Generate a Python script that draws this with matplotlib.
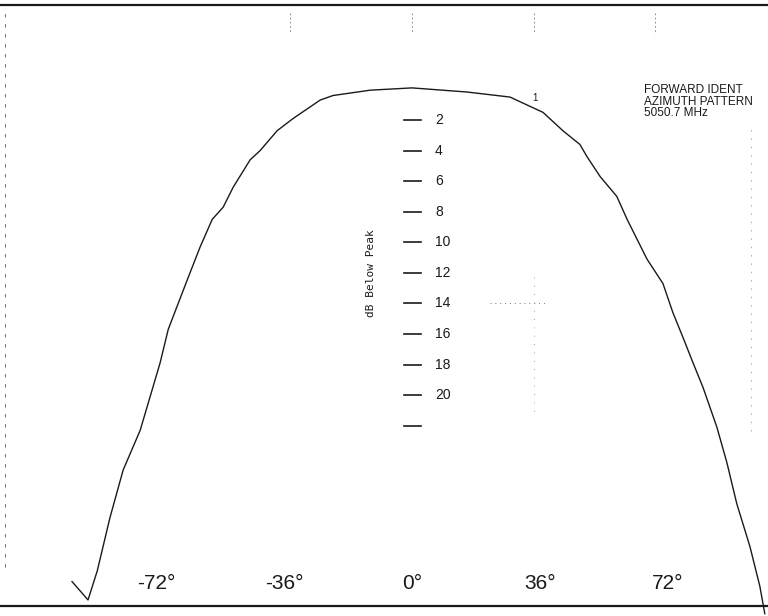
import matplotlib
matplotlib.use("Agg")
import matplotlib.pyplot as plt

# Azimuth pattern (degrees, dB below peak)
azimuth_deg = [-95.8, -91.3, -88.7, -85.1, -81.4, -76.6, -71.0, -68.7, -63.4, -59.7,
               -56.3, -53.2, -50.4, -45.6, -42.8, -38.0, -33.5, -25.9, -22.3, -11.8,
               0.0, 15.5, 27.6, 34.1, 36.9, 42.5, 47.3, 49.3, 53.0, 57.7, 60.6,
               66.2, 70.7, 73.5, 76.3, 79.2, 82.0, 85.9, 88.7, 91.5, 95.2, 98.0, 99.4]
db_below_peak = [32.2, 33.4, 31.5, 28.0, 24.9, 22.3, 17.9, 15.7, 12.5, 10.3,
                 8.5, 7.7, 6.4, 4.6, 4.0, 2.7, 1.9, 0.7, 0.4, 0.05,
                 -0.1, 0.17, 0.5, 1.2, 1.5, 2.7, 3.6, 4.4, 5.7, 7.0, 8.5,
                 11.1, 12.7, 14.6, 16.2, 17.9, 19.5, 22.1, 24.4, 27.1, 29.9, 32.5, 34.3]

x_tick_values = [-72, -36, 0, 36, 72]
x_tick_labels = ["-72°", "-36°", "0°", "36°", "72°"]
db_tick_values = [2, 4, 6, 8, 10, 12, 14, 16, 18, 20, 22]
db_tick_labels = ["2", "4", "6", "8", "10", "12", "14", "16", "18", "20", ""]

fig = plt.figure(figsize=(7.68, 6.16), dpi=100)
ax = fig.add_axes([0, 0, 1, 1])
ax.set_xlim(-116.1, 100.3)
ax.set_ylim(34.45, -5.85)
ax.axis("off")

ink = "#1a1a1a"
font = "Liberation Sans"

# pattern curve
ax.plot(azimuth_deg, db_below_peak, color=ink, lw=1.0)

# frame lines (top and bottom of the scanned sheet)
ax.axhline(-5.5, color=ink, lw=1.6)
ax.axhline(33.8, color=ink, lw=1.6)
ax.axvline(-114.6, ymin=0.08, ymax=0.98, color="#555555", lw=0.6, ls=(0, (4, 8)))
ax.axvline(95.6, ymin=0.3, ymax=0.8, color="#888888", lw=0.5, ls=(0, (2, 10)))

# faint vertical marks near top
for xv in [-34.4, 0.0, 34.4, 68.5]:
    ax.plot([xv, xv], [-5.0, -3.6], color="#777777", lw=0.6, ls=(0, (2, 3)))

# central dB scale
for v, lab in zip(db_tick_values, db_tick_labels):
    ax.plot([-2.4, 2.4], [v, v], color=ink, lw=1.2)
    if lab:
        ax.text(6.5, v, lab, ha="left", va="center", fontsize=10,
                family=font, color=ink)
ax.text(-11.5, 12.0, "dB Below Peak", rotation=90, ha="center", va="center",
        fontsize=8, family="DejaVu Sans Mono", color=ink)

# faint dotted guide lines on the right
ax.plot([22.0, 38.0], [14.0, 14.0], color="#777777", lw=0.7, ls=(0, (1, 4)))
ax.plot([34.4, 34.4], [12.3, 21.2], color="#888888", lw=0.6, ls=(0, (1, 9)))

# azimuth labels
for v, lab in zip(x_tick_values, x_tick_labels):
    ax.text(v, 32.3, lab, ha="center", va="center", fontsize=15,
            family=font, color=ink)

ax.text(34.6, 0.55, "1", ha="center", va="center", fontsize=7, family=font, color=ink)

ax.text(65.3, 0.8, "FORWARD IDENT\nAZIMUTH PATTERN\n5050.7 MHz", ha="left",
        va="center", fontsize=8.5, family=font, color=ink, linespacing=0.95,
        clip_on=True)

fig.savefig("out.png", dpi=100, facecolor="white")
